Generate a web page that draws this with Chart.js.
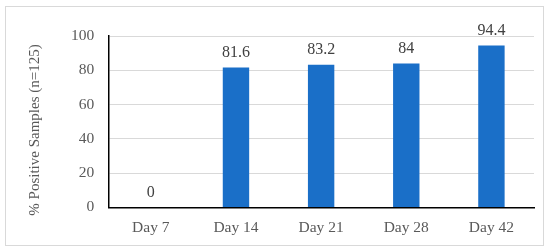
<!DOCTYPE html>
<html>
<head>
<meta charset="utf-8">
<script src="https://cdn.jsdelivr.net/npm/chart.js@4"></script>
<style>
  html, body { margin: 0; padding: 0; background: #fff; }
</style>
</head>
<body>
<canvas id="myChart" width="550" height="252"></canvas>
<script>
const days = ['Day 7', 'Day 14', 'Day 21', 'Day 28', 'Day 42'];
const positive = [0, 81.6, 83.2, 84, 94.4];
const yTicks = [0, 20, 40, 60, 80, 100];
const yTitle = '% Positive Samples (n=125)';

const serif = '"Liberation Serif", "Times New Roman", serif';

// frame around the whole figure
const framePlugin = {
    id: 'frame',
    beforeDraw(chart) {
        const c = chart.ctx;
        c.save();
        c.fillStyle = '#fff';
        c.fillRect(0, 0, chart.width, chart.height);
        c.strokeStyle = '#d9d9d9';
        c.lineWidth = 1;
        c.strokeRect(5.5, 6.5, 538, 239);
        c.restore();
    }
};

// value labels above the bars, plus the y title (sits a little below the axis centre)
const labelPlugin = {
    id: 'valueLabels',
    afterDatasetsDraw(chart) {
        const c = chart.ctx;
        const meta = chart.getDatasetMeta(0);
        c.save();
        c.font = '16px ' + serif;
        c.fillStyle = '#404040';
        c.textAlign = 'center';
        c.textBaseline = 'middle';
        meta.data.forEach((bar, i) => {
            c.fillText(String(positive[i]), bar.x, bar.y - 15);
        });
        c.font = '15px ' + serif;
        c.translate(35, 130);
        c.rotate(-Math.PI / 2);
        c.fillStyle = '#595959';
        c.fillText(yTitle, 0, 0);
        c.restore();
    }
};

const ctx = document.getElementById('myChart');
const myChart = new Chart(ctx, {
    type: 'bar',
    data: {
        labels: days,
        datasets: [{
            label: '% Positive Samples',
            data: positive,
            backgroundColor: '#1a6fc8',
            borderWidth: 0,
            categoryPercentage: 1,
            barPercentage: 0.31
        }]
    },
    options: {
        responsive: false,
        animation: false,
        devicePixelRatio: 1,
        layout: {
            padding: { left: 27, right: 16, top: 36, bottom: 4 }
        },
        scales: {
            x: {
                grid: { display: false, drawTicks: false },
                border: { display: true, color: '#000', width: 1.5 },
                ticks: {
                    color: '#595959',
                    font: { family: serif, size: 15.5 },
                    padding: 11,
                    maxRotation: 0
                }
            },
            y: {
                min: 0,
                max: 100,
                afterBuildTicks(axis) {
                    axis.ticks = yTicks.map(v => ({ value: v }));
                },
                grid: { color: '#d9d9d9', drawTicks: false },
                border: { display: true, color: '#000', width: 1.5 },
                ticks: {
                    color: '#595959',
                    font: { family: serif, size: 15.5 },
                    padding: 14
                },
                title: {
                    display: true,
                    text: yTitle,
                    color: 'rgba(0,0,0,0)',
                    font: { family: serif, size: 15 },
                    padding: { top: 0, bottom: 12 }
                }
            }
        },
        plugins: {
            legend: { display: false },
            tooltip: { enabled: false }
        }
    },
    plugins: [framePlugin, labelPlugin]
});
</script>
</body>
</html>
